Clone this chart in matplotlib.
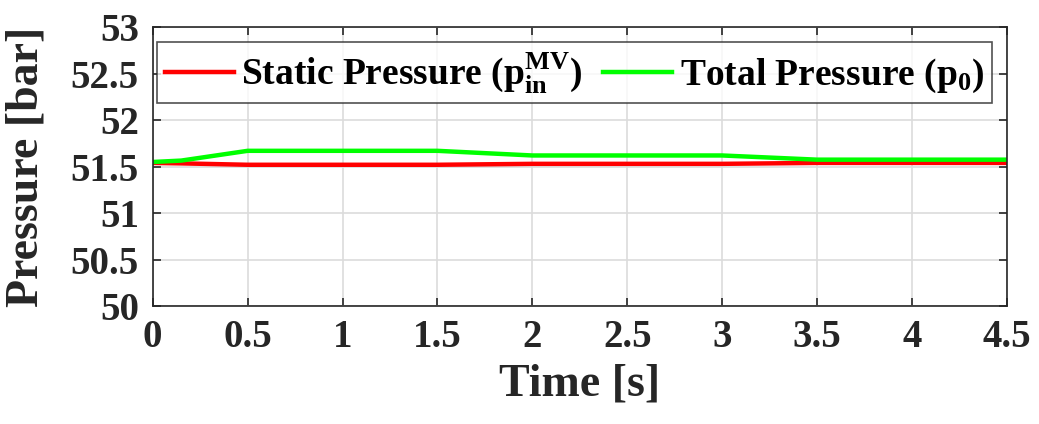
import matplotlib
matplotlib.use("Agg")
import matplotlib.pyplot as plt

# Pressure traces over time
time_s = [0.0, 0.15, 0.5, 1.0, 1.5, 2.0, 2.5, 3.0, 3.5, 4.0, 4.5]
static_pressure = [51.54, 51.535, 51.52, 51.52, 51.52, 51.53, 51.53, 51.53, 51.54, 51.54, 51.54]
total_pressure = [51.55, 51.565, 51.67, 51.67, 51.67, 51.62, 51.62, 51.62, 51.575, 51.575, 51.575]

x_ticks = [0, 0.5, 1, 1.5, 2, 2.5, 3, 3.5, 4, 4.5]
x_tick_labels = ["0", "0.5", "1", "1.5", "2", "2.5", "3", "3.5", "4", "4.5"]
y_ticks = [50, 50.5, 51, 51.5, 52, 52.5, 53]
y_tick_labels = ["50", "50.5", "51", "51.5", "52", "52.5", "53"]

plt.rcParams['font.family'] = ['Liberation Serif', 'DejaVu Serif']
plt.rcParams['mathtext.fontset'] = 'custom'
plt.rcParams['mathtext.rm'] = 'Liberation Serif:bold'
plt.rcParams['mathtext.it'] = 'Liberation Serif:bold'
plt.rcParams['mathtext.bf'] = 'Liberation Serif:bold'

fig = plt.figure(figsize=(10.39, 4.24), dpi=100)
ax = fig.add_axes([0.147, 0.278, 0.822, 0.658])

ax.plot(time_s, static_pressure, color="#ff0000", lw=3.2,
        label=r"Static Pressure (p$_{\rm in}^{\rm MV}$)")
ax.plot(time_s, total_pressure, color="#00ff00", lw=3.2,
        label=r"Total Pressure (p$_{0}$)")

ax.set_xlim(0, 4.5)
ax.set_ylim(50, 53)
ax.set_xticks(x_ticks)
ax.set_xticklabels(x_tick_labels)
ax.set_yticks(y_ticks)
ax.set_yticklabels(y_tick_labels)
ax.tick_params(axis="both", labelsize=28, direction="in", length=6,
               width=1.2, color="#262626")
ax.tick_params(axis="x", pad=9)
ax.tick_params(axis="y", pad=10)
for lbl in ax.get_xticklabels() + ax.get_yticklabels():
    lbl.set_fontweight("bold")
    lbl.set_color("#262626")
ax.tick_params(top=True, right=True)
ax.grid(True, color="#dcdcdc", lw=1.2)
ax.set_axisbelow(True)
for sp in ax.spines.values():
    sp.set_color("#262626")
    sp.set_linewidth(1.2)

ax.set_xlabel("Time [s]", fontsize=33, fontweight="bold", color="#262626", labelpad=6)
ax.set_ylabel("Pressure [bar]", fontsize=33, fontweight="bold", color="#262626")
ax.yaxis.set_label_coords(-0.123, 0.5)

leg = ax.legend(loc="upper left", bbox_to_anchor=(0.005, 0.945),
                ncol=2, prop={"weight": "bold", "size": 27},
                frameon=True, fancybox=False, edgecolor="#262626",
                handlelength=1.85, handletextpad=0.2, columnspacing=0.55,
                borderpad=0.2, borderaxespad=0)
leg.get_frame().set_linewidth(1.2)

fig.savefig("out.png", dpi=100)
